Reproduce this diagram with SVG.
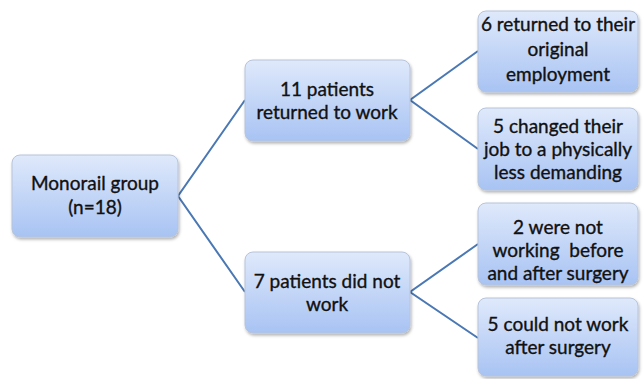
<svg xmlns="http://www.w3.org/2000/svg" width="643" height="379" viewBox="0 0 643 379">
<defs>
<linearGradient id="g" x1="0" y1="0" x2="0" y2="1">
<stop offset="0" stop-color="#dfe9fb"/>
<stop offset="1" stop-color="#a8c3f3"/>
</linearGradient>
<filter id="sh" x="-10%" y="-10%" width="130%" height="130%">
<feDropShadow dx="1" dy="2" stdDeviation="1.5" flood-color="#000" flood-opacity="0.3"/>
</filter>
<style>
.box{fill:url(#g);stroke:#b7c4da;stroke-width:1;filter:url(#sh)}
.t{font-family:Lato,"Liberation Sans",sans-serif;font-size:19px;fill:#111;stroke:#111;stroke-width:0.35;text-anchor:middle}
.c{fill:none;stroke:#4a78b4;stroke-width:2}
</style>
</defs>
<rect width="643" height="379" fill="#fff"/>
<g id="connectors">
<polyline class="c" points="245,100 178,196 245,292"/>
<polyline class="c" points="478,51 410,100 478,149"/>
<polyline class="c" points="478,244 410,292 478,338"/>
</g>
<g id="root">
<rect class="box" x="12" y="155" width="166" height="82" rx="8"/>
<text class="t" x="95" y="190">Monorail group</text>
<text class="t" x="95" y="214">(n=18)</text>
</g>
<g id="returned">
<rect class="box" x="245" y="60" width="165" height="81" rx="8"/>
<text class="t" x="327" y="96">11 patients</text>
<text class="t" x="327" y="119">returned to work</text>
</g>
<g id="notwork">
<rect class="box" x="245" y="252" width="165" height="81" rx="8"/>
<text class="t" x="327" y="288">7 patients did not</text>
<text class="t" x="327" y="311">work</text>
</g>
<g id="leaf1">
<rect class="box" x="478" y="11" width="160" height="81" rx="8"/>
<text class="t" x="558" y="31">6 returned to their</text>
<text class="t" x="558" y="56">original</text>
<text class="t" x="558" y="81">employment</text>
</g>
<g id="leaf2">
<rect class="box" x="478" y="108" width="160" height="82" rx="8"/>
<text class="t" x="558" y="133">5 changed their</text>
<text class="t" x="558" y="156">job to a physically</text>
<text class="t" x="558" y="179">less demanding</text>
</g>
<g id="leaf3">
<rect class="box" x="478" y="203" width="160" height="82" rx="8"/>
<text class="t" x="558" y="234">2 were not</text>
<text class="t" x="558" y="257" xml:space="preserve">working  before</text>
<text class="t" x="558" y="280">and after surgery</text>
</g>
<g id="leaf4">
<rect class="box" x="478" y="298" width="160" height="78" rx="8"/>
<text class="t" x="558" y="331">5 could not work</text>
<text class="t" x="558" y="354">after surgery</text>
</g>
</svg>
